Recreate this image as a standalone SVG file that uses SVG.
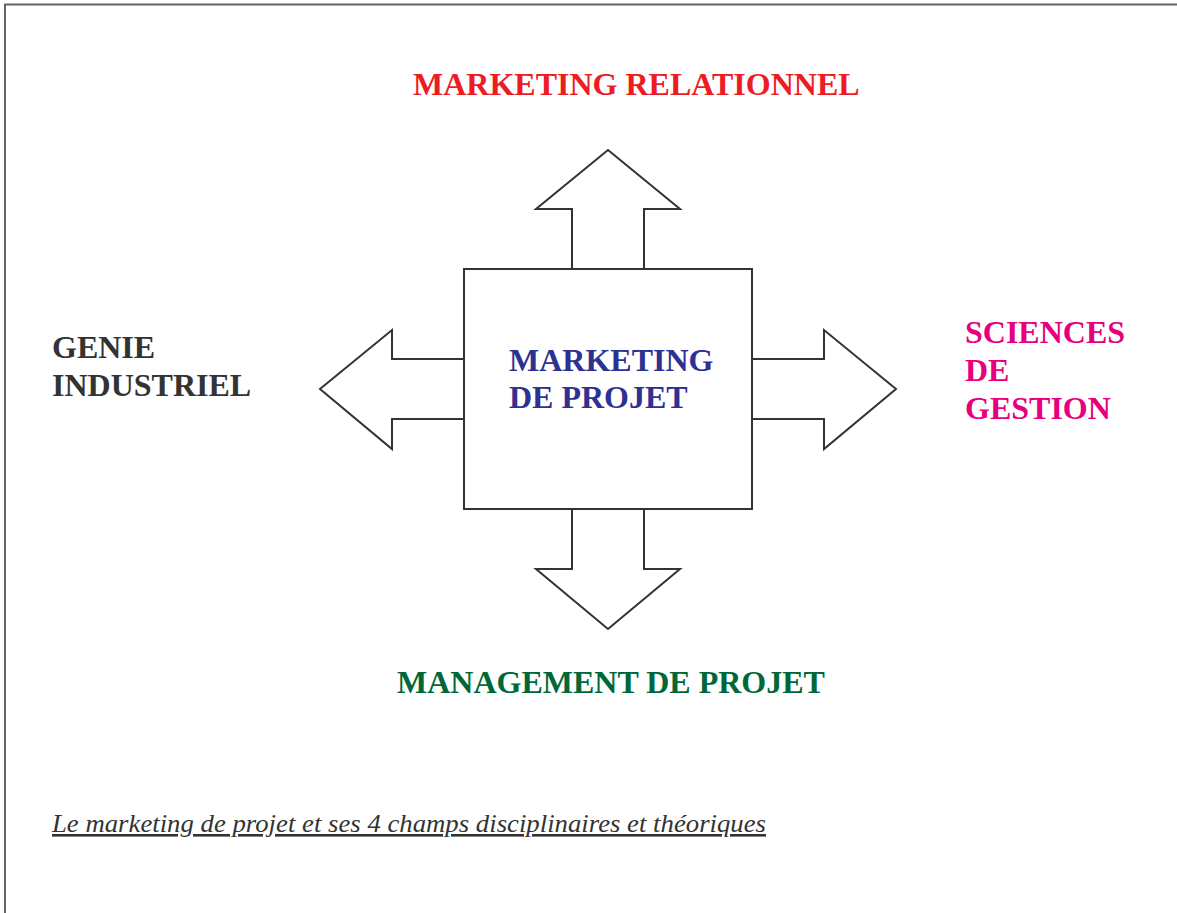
<svg xmlns="http://www.w3.org/2000/svg" width="1177" height="913" viewBox="0 0 1177 913">
<style>
.shape{fill:#fff;stroke:#333;stroke-width:2;stroke-linejoin:miter}
.lbl{font-family:"Liberation Serif","Times New Roman",serif;font-weight:bold;font-size:32px}
.cap{font-family:"Liberation Serif","Times New Roman",serif;font-style:italic;font-size:26px;fill:#333}
</style>
<rect width="1177" height="913" fill="#fff"/>
<path d="M5,913 V4.5 H1177" fill="none" stroke="#6a6262" stroke-width="2"/>
<g id="connectors">
<path class="shape" d="M572,269 V209 H536 L608,150 L680,209 H644 V269"/>
<path class="shape" d="M464,359 H392 V330 L320,389 L392,449 V419 H464"/>
<path class="shape" d="M752,359 H824 V330 L896,389 L824,449 V419 H752"/>
<path class="shape" d="M572,509 V569 H536 L608,629 L680,569 H644 V509"/>
</g>
<g id="center">
<rect class="shape" x="464" y="269" width="288" height="240"/>
<text class="lbl" fill="#2e3192"><tspan x="509" y="371">MARKETING</tspan><tspan x="509" y="408">DE PROJET</tspan></text>
</g>
<g id="top">
<text class="lbl" fill="#ed1c24" x="413" y="95">MARKETING RELATIONNEL</text>
</g>
<g id="left">
<text class="lbl" fill="#333333"><tspan x="52" y="358">GENIE</tspan><tspan x="52" y="396">INDUSTRIEL</tspan></text>
</g>
<g id="right">
<text class="lbl" fill="#e6007e"><tspan x="965" y="343">SCIENCES</tspan><tspan x="965" y="381">DE</tspan><tspan x="965" y="419">GESTION</tspan></text>
</g>
<g id="bottom">
<text class="lbl" fill="#006838" x="397" y="693">MANAGEMENT DE PROJET</text>
</g>
<g id="caption">
<text class="cap" x="52" y="832" textLength="714" lengthAdjust="spacingAndGlyphs" text-decoration="underline">Le marketing de projet et ses 4 champs disciplinaires et théoriques</text>
</g>
</svg>
